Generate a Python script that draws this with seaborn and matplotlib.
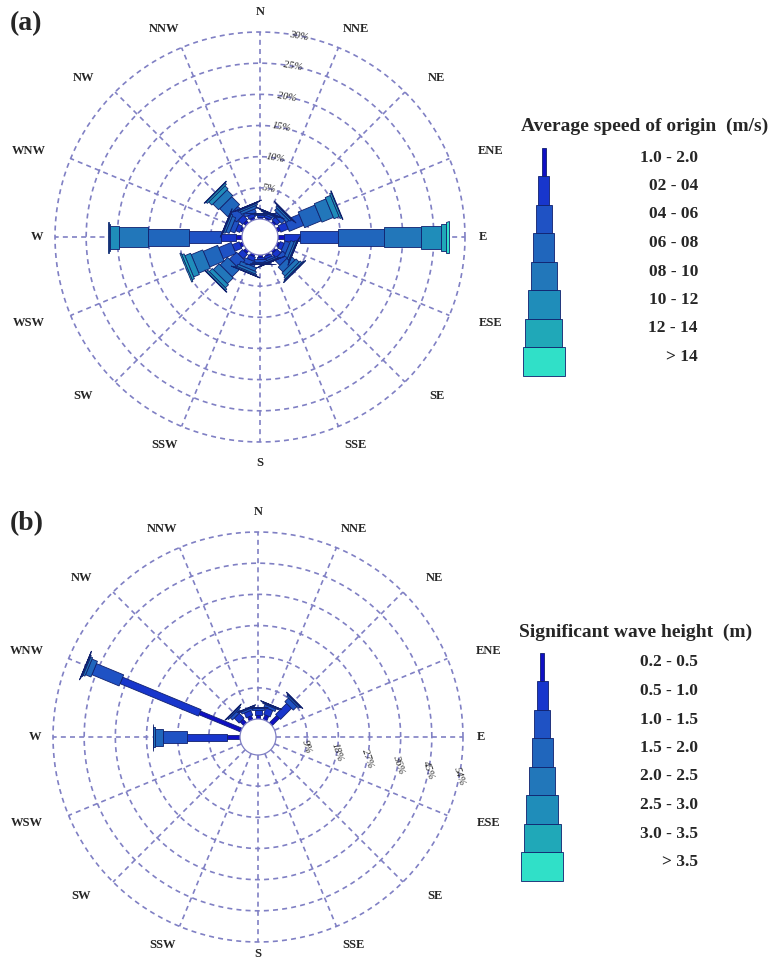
import numpy as np
import matplotlib
matplotlib.use("Agg")
import matplotlib.pyplot as plt
import seaborn as sns

# 16 compass sectors, clockwise from north
directions = ["N", "NNE", "NE", "ENE", "E", "ESE", "SE", "SSE",
              "S", "SSW", "SW", "WSW", "W", "WNW", "NW", "NNW"]

# (a) wind speed classes, frequency (%) per sector
speed_labels = ["1.0 - 2.0", "02 - 04", "04 - 06", "06 - 08",
                "08 - 10", "10 - 12", "12 - 14", "> 14"]
spd_01_02 = [0.3, 0.3, 0.4, 0.5, 1.0, 0.4, 0.4, 0.3, 0.3, 0.4, 0.5, 0.5, 0.9, 0.4, 0.5, 0.4]
spd_02_04 = [0.3, 0.4, 0.7, 1.3, 2.6, 0.7, 0.9, 0.4, 0.4, 0.7, 1.0, 1.2, 2.5, 0.7, 1.0, 0.6]
spd_04_06 = [0.2, 0.3, 0.7, 2.5, 6.1, 0.8, 1.3, 0.35, 0.35, 0.8, 1.6, 2.2, 5.1, 0.8, 1.6, 0.6]
spd_06_08 = [0.1, 0.15, 0.5, 2.9, 7.3, 0.6, 1.1, 0.25, 0.25, 0.6, 1.7, 2.5, 6.6, 0.6, 1.8, 0.45]
spd_08_10 = [0.05, 0.08, 0.3, 2.0, 5.9, 0.3, 0.7, 0.12, 0.12, 0.4, 1.3, 2.0, 4.6, 0.3, 1.3, 0.27]
spd_10_12 = [0.03, 0.04, 0.12, 0.9, 3.2, 0.12, 0.35, 0.05, 0.05, 0.2, 0.7, 1.0, 1.4, 0.12, 0.7, 0.12]
spd_12_14 = [0.01, 0.02, 0.05, 0.3, 0.9, 0.05, 0.15, 0.02, 0.02, 0.07, 0.3, 0.4, 0.3, 0.05, 0.3, 0.04]
spd_gt_14 = [0.01, 0.01, 0.03, 0.1, 0.4, 0.03, 0.1, 0.01, 0.01, 0.03, 0.1, 0.2, 0.1, 0.03, 0.1, 0.02]
speed_rings = [5, 10, 15, 20, 25, 30]

# (b) significant wave height classes, frequency (%) per sector
wave_labels = ["0.2 - 0.5", "0.5 - 1.0", "1.0 - 1.5", "1.5 - 2.0",
               "2.0 - 2.5", "2.5 - 3.0", "3.0 - 3.5", "> 3.5"]
hs_02_05 = [1.2, 1.5, 3.0, 0, 0, 0, 0, 0, 0, 0, 0, 0, 3.8, 13.0, 1.5, 1.2]
hs_05_10 = [1.5, 2.0, 4.5, 0, 0, 0, 0, 0, 0, 0, 0, 0, 11.6, 24.5, 2.0, 1.5]
hs_10_15 = [0.5, 0.8, 1.5, 0, 0, 0, 0, 0, 0, 0, 0, 0, 6.8, 8.5, 0.9, 0.6]
hs_15_20 = [0.2, 0.3, 0.5, 0, 0, 0, 0, 0, 0, 0, 0, 0, 2.4, 1.7, 0.4, 0.3]
hs_20_25 = [0.1, 0.15, 0.2, 0, 0, 0, 0, 0, 0, 0, 0, 0, 0.5, 0.6, 0.15, 0.1]
hs_25_30 = [0, 0.05, 0.1, 0, 0, 0, 0, 0, 0, 0, 0, 0, 0.1, 0.3, 0.05, 0]
hs_30_35 = [0, 0, 0, 0, 0, 0, 0, 0, 0, 0, 0, 0, 0.05, 0.1, 0, 0]
hs_gt_35 = [0, 0, 0, 0, 0, 0, 0, 0, 0, 0, 0, 0, 0, 0.05, 0, 0]
wave_rings = [9, 18, 27, 36, 45, 54]

sns.set_style("white")
plt.rcParams['font.family'] = ['Liberation Serif', 'DejaVu Serif']

bin_colors = sns.color_palette(["#1010c4", "#1836cc", "#1f52c4", "#2066bc",
                                "#2277ba", "#1f8dba", "#20a8b8", "#30e0c8"])
edge_c = "#10206e"
grid_c = "#8080c4"
bar_w = [4, 7, 12, 17, 20, 23, 27, 31]      # bar width per class (px)
leg_w = [4, 11, 16, 21, 26, 32, 37, 42]     # legend box widths (px)
HOLE = 18.0
OUTER = 205.0


def draw_rose(ax, classes, rings, lab_ang, lab_rot, s_rad):
    k = (OUTER - HOLE) / rings[-1]
    t = np.linspace(0, 2 * np.pi, 500)
    for p in rings:
        r = HOLE + p * k
        ax.plot(r * np.cos(t), r * np.sin(t), color=grid_c, lw=1.2,
                ls=(0, (3, 2.5)), zorder=1)
    for i, d in enumerate(directions):
        a = np.deg2rad(i * 22.5)
        ax.plot([HOLE * np.sin(a), OUTER * np.sin(a)],
                [HOLE * np.cos(a), OUTER * np.cos(a)],
                color=grid_c, lw=1.2, ls=(0, (3, 2.5)), zorder=1)
        if i % 4 == 0:
            rx, ry = 223, 225
            if d == "S":
                ry = s_rad
        else:
            rx, ry = 250, 225
        ax.text(rx * np.sin(a), ry * np.cos(a), d, ha='center', va='center',
                fontsize=9, fontweight='bold', clip_on=False)
    # ring labels
    a = np.deg2rad(lab_ang)
    for p in rings:
        r = HOLE + p * k
        ax.text(r * np.sin(a), r * np.cos(a), f"{p}%", fontsize=7.5,
                style='italic', rotation=lab_rot, ha='center', va='center',
                zorder=2)
    # stacked bars, each class a rectangle of its own width
    base = np.zeros(len(directions))
    for j, vals in enumerate(classes):
        vals = np.asarray(vals, dtype=float)
        for i in range(len(directions)):
            if vals[i] <= 0:
                continue
            a = np.deg2rad(i * 22.5)
            u = np.array([np.sin(a), np.cos(a)])
            n = np.array([np.cos(a), -np.sin(a)])
            r0 = HOLE + base[i] * k
            r1 = HOLE + (base[i] + vals[i]) * k
            h = bar_w[j] / 2
            pts = np.array([r0 * u + h * n, r1 * u + h * n,
                            r1 * u - h * n, r0 * u - h * n])
            ax.fill(pts[:, 0], pts[:, 1], fc=bin_colors[j], ec=edge_c,
                    lw=0.6, zorder=3 + j)
        base += vals
    ax.add_patch(plt.Circle((0, 0), HOLE, fc='white', ec=grid_c, lw=0.9,
                            zorder=20))
    ax.set_axis_off()


fig = plt.figure(figsize=(7.75, 9.63), dpi=100)

# overlay in pixel units for legends and panel tags
ov = fig.add_axes([0, 0, 1, 1])
ov.set_xlim(0, 775)
ov.set_ylim(963, 0)
ov.set_axis_off()

ax_a = fig.add_axes([20 / 775, 1 - 480 / 963, 480 / 775, 480 / 963])
ax_a.set_xlim(-240, 240)
ax_a.set_ylim(-243, 237)
draw_rose(ax_a, [spd_01_02, spd_02_04, spd_04_06, spd_06_08,
                 spd_08_10, spd_10_12, spd_12_14, spd_gt_14],
          speed_rings, 11, -10, 226)

ax_b = fig.add_axes([18 / 775, 0, 480 / 775, 466 / 963])
ax_b.set_xlim(-240, 240)
ax_b.set_ylim(-226, 240)
draw_rose(ax_b, [hs_02_05, hs_05_10, hs_10_15, hs_15_20,
                 hs_20_25, hs_25_30, hs_30_35, hs_gt_35],
          wave_rings, 101, -72, 217)

ov.text(10, 24, "(a)", fontsize=20, fontweight='bold', va='center')
ov.text(10, 524, "(b)", fontsize=20, fontweight='bold', va='center')


def draw_legend(title, labels, tx, ty, bx, btop):
    ov.text(tx, ty, title, fontsize=14, fontweight='bold', va='center')
    step = 28.5
    for j, lab in enumerate(labels):
        ov.bar(bx, step, width=leg_w[j], bottom=btop + j * step,
               color=bin_colors[j], edgecolor=edge_c, lw=0.6)
        ov.text(698, btop + j * step + 9.5, lab, fontsize=12.5,
                fontweight='bold', ha='right', va='center')


draw_legend("Average speed of origin  (m/s)", speed_labels, 521, 126, 543.5, 148)
draw_legend("Significant wave height  (m)", wave_labels, 519, 632, 542, 653)

fig.savefig("out.png", dpi=100)
